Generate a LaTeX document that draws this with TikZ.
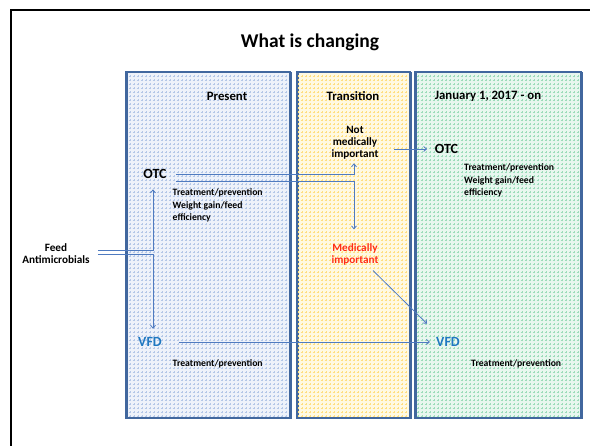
\documentclass[tikz,border=0pt]{standalone}
\usepackage{fontspec}
\setmainfont{Carlito}
\usetikzlibrary{patterns,arrows.meta}
\pgfdeclarepatternformonly{plusgrid}{\pgfpoint{-0.5pt}{-0.5pt}}{\pgfpoint{4.5pt}{4.5pt}}{\pgfpoint{4pt}{4pt}}{%
  \pgfsetlinewidth{0.6pt}%
  \pgfpathmoveto{\pgfpoint{0.6pt}{2pt}}\pgfpathlineto{\pgfpoint{3.4pt}{2pt}}%
  \pgfpathmoveto{\pgfpoint{2pt}{0.6pt}}\pgfpathlineto{\pgfpoint{2pt}{3.4pt}}%
  \pgfusepath{stroke}}
\definecolor{frameblue}{HTML}{41679E}
\definecolor{bgblue}{HTML}{EEF2FA}
\definecolor{dotblue}{HTML}{B4C7E7}
\definecolor{bgyellow}{HTML}{FFF9E2}
\definecolor{dotyellow}{HTML}{FFDF80}
\definecolor{bggreen}{HTML}{E8F7EF}
\definecolor{dotgreen}{HTML}{9CDCBA}
\definecolor{connblue}{HTML}{4F7BC0}
\definecolor{vfdblue}{HTML}{1F78C1}
\definecolor{medred}{HTML}{FF2D16}
\tikzset{
  panel/.style={draw=frameblue, line width=1.5pt, anchor=north west, inner sep=0pt},
  lbl/.style={font=\bfseries\fontsize{11.2}{12}\selectfont, inner sep=0pt, align=center},
  hdr/.style={font=\bfseries\fontsize{12.8}{14}\selectfont, inner sep=0pt},
  big/.style={font=\bfseries\fontsize{14}{16}\selectfont, inner sep=0pt},
  small/.style={font=\bfseries\fontsize{9.7}{12.5}\selectfont, inner sep=0pt, align=left, anchor=west},
  conn/.style={draw=connblue, line width=0.8pt, -{Straight Barb[length=3pt,width=5pt]}}
}
\begin{document}
\begin{tikzpicture}[x=1pt,y=-1pt]
\useasboundingbox (0,0) rectangle (590,446);
\fill[white] (0,0) rectangle (590,446);
\draw[line width=2.5pt] (11,470) -- (11,10) -- (620,10);
% panels
\node[panel, fill=bgblue, minimum width=164pt, minimum height=346pt,
  postaction={pattern=plusgrid, pattern color=dotblue}] (present) at (126,72) {};
\node[panel, fill=bgyellow, minimum width=113pt, minimum height=346pt,
  postaction={pattern=plusgrid, pattern color=dotyellow}] (trans) at (297,72) {};
\node[panel, fill=bggreen, minimum width=166pt, minimum height=346pt,
  postaction={pattern=plusgrid, pattern color=dotgreen}] (future) at (415,72) {};
\draw[frameblue, line width=1.5pt] (126,72) rectangle (290,418);
\draw[frameblue, line width=1.5pt] (297,72) rectangle (410,418);
\draw[frameblue, line width=1.5pt] (415,72) rectangle (581,418);
% texts
\node[font=\bfseries\fontsize{19.5}{21}\selectfont, inner sep=0pt] (title) at (310,42) {What is changing};
\node[hdr] (hp) at (227,96) {Present};
\node[hdr] (ht) at (353,96) {Transition};
\node[hdr] (hf) at (488,96) {January 1, 2017 - on};
\node[lbl] (notmed) at (355,143) {Not\\medically\\important};
\node[lbl, text=medred] (medimp) at (355,254) {Medically\\important};
\node[lbl] (feed) at (56,254) {Feed\\Antimicrobials};
\node[big] (otcP) at (155,174) {OTC};
\node[big] (otcG) at (446.5,149) {OTC};
\node[big, text=vfdblue] (vfdP) at (150,342) {VFD};
\node[big, text=vfdblue] (vfdG) at (448,342) {VFD};
\node[small] (tp1) at (172.5,205.5) {Treatment/prevention\\Weight gain/feed\\efficiency};
\node[small] (tg1) at (464,180.5) {Treatment/prevention\\Weight gain/feed\\efficiency};
\node[small] (tp2) at (172.5,364) {Treatment/prevention};
\node[small] (tg2) at (471,364) {Treatment/prevention};
% connectors
\draw[conn] ([xshift=8pt,yshift=3.5pt]feed.east) -| ([xshift=-2pt,yshift=-10.5pt]otcP.south);
\draw[conn] ([xshift=8pt,yshift=-0.5pt]feed.east) -| ([xshift=3pt,yshift=8.5pt]vfdP.north);
\draw[conn] ([xshift=9pt]otcP.east) -| ([xshift=-1pt,yshift=-3.5pt]notmed.south);
\draw[conn] ([xshift=9pt,yshift=-7pt]otcP.east) -| ([xshift=-1pt,yshift=13.5pt]medimp.north);
\draw[conn] ([xshift=15.5pt,yshift=-6pt]notmed.east) -- ([xshift=-7.5pt]otcG.west);
\draw[conn] ([xshift=18pt,yshift=-5.5pt]medimp.south) -- ([xshift=-9pt,yshift=13.5pt]vfdG.north west);
\draw[conn] ([xshift=17pt]vfdP.east) -- ([xshift=-6pt]vfdG.west);
\end{tikzpicture}
\end{document}
